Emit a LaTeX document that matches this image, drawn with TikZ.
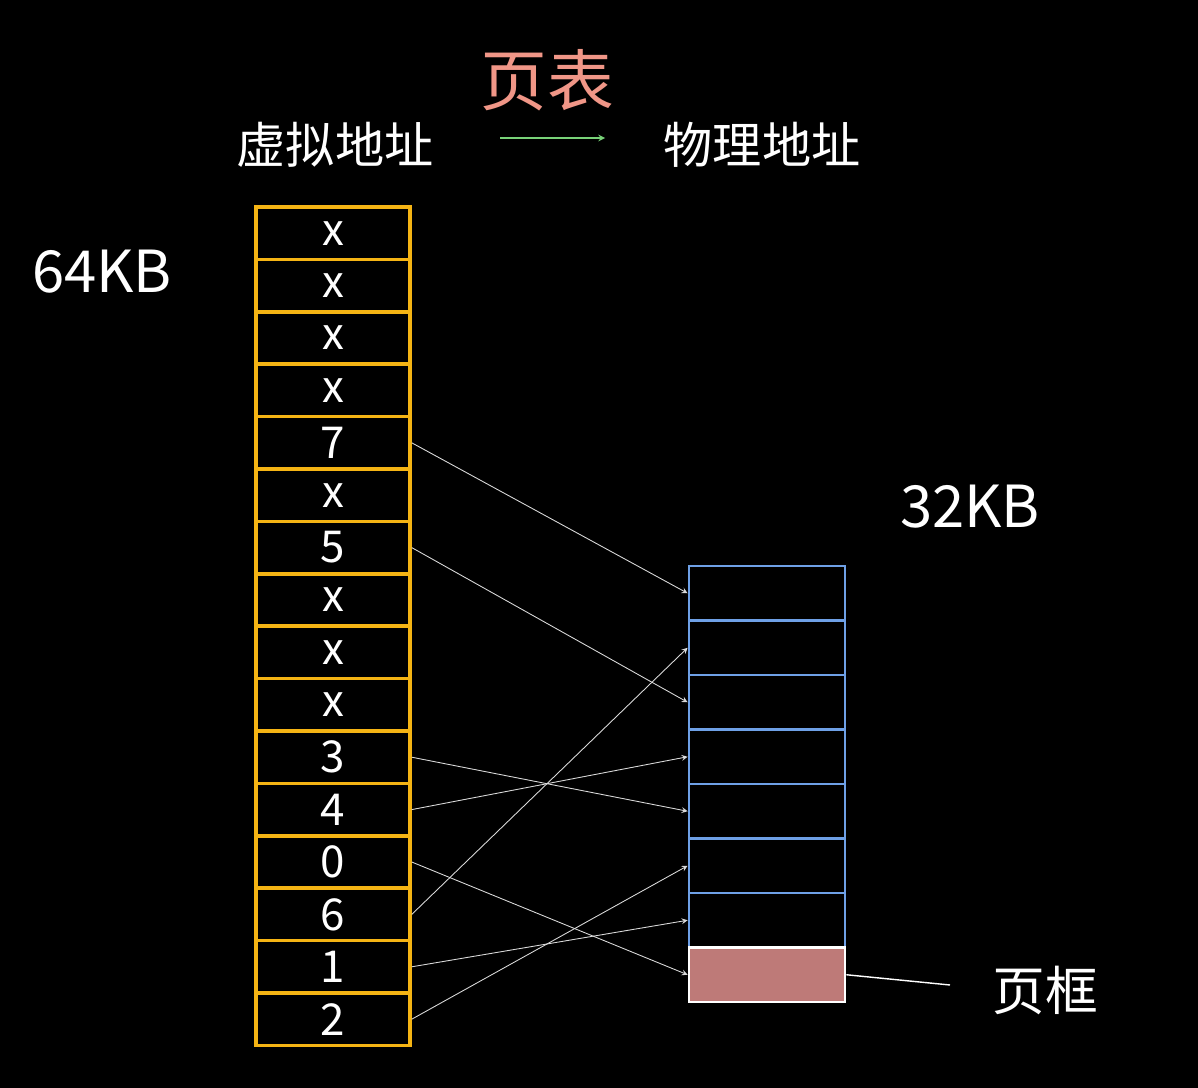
\documentclass[tikz,border=0pt]{standalone}
\usepackage{fontspec}
\setmainfont{Noto Sans CJK SC}
\begin{document}
\begin{tikzpicture}[x=0.02cm,y=-0.02cm,
 lcell/.style={draw={rgb,255:red,245;green,180;blue,20},line width=2pt,minimum width=154*0.02cm,minimum height=52.4*0.02cm,inner sep=0,text=white,font=\fontsize{25}{25}\selectfont},
 rcell/.style={draw={rgb,255:red,110;green,160;blue,230},line width=1.6pt,minimum width=156*0.02cm,minimum height=54.5*0.02cm,inner sep=0},
 conn/.style={draw=white!85!black,line width=0.5pt,-stealth},
 lbl/.style={text=white,inner sep=0}]
\fill[black] (0,0) rectangle (1198,1088);
\useasboundingbox (0,0) rectangle (1198,1088);
\def\labs{{"x","x","x","x","7","x","5","x","x","x","3","4","0","6","1","2"}}
\foreach \i in {1,...,16}{
  \pgfmathsetmacro\yy{207+52.4*(\i-0.5)}
  \pgfmathparse{\labs[\i-1]}\let\t\pgfmathresult
  \node[lcell] (L\i) at (333,\yy) {\raisebox{-0.45em}{\t}};
}
\foreach \i in {1,...,7}{
  \pgfmathsetmacro\yy{566+54.5*(\i-0.5)}
  \node[rcell] (R\i) at (767,\yy) {};
}
\node[rcell,draw=white,fill={rgb,255:red,190;green,122;blue,120}] (R8) at (767,566+54.5*7.5) {};
\foreach \a/\b in {5/1,7/3,11/5,12/4,13/8,14/2,15/7,16/6}
  \draw[conn] (L\a.east) -- (R\b.west);
\node[text={rgb,255:red,240;green,150;blue,135},font=\fontsize{38}{38}\selectfont] (title) at (547,80) {页表};
\node[lbl,font=\fontsize{28}{28}\selectfont] (va) at (335,145) {虚拟地址};
\node[lbl,font=\fontsize{28}{28}\selectfont] (pa) at (762,145) {物理地址};
\coordinate (g1) at (500,138); \coordinate (g2) at (605,138);
\draw[draw={rgb,255:red,120;green,210;blue,120},line width=0.7pt,-stealth] (g1) -- (g2);
\node[lbl,font=\fontsize{33}{33}\selectfont] (k64) at (102,272) {64KB};
\node[lbl,font=\fontsize{33}{33}\selectfont] (k32) at (970,507) {32KB};
\node[lbl,font=\fontsize{30}{30}\selectfont] (yk) at (1045,990) {页框};
\coordinate (yl) at (950,985);
\draw[white,line width=0.8pt] (R8.east) -- (yl);
\end{tikzpicture}
\end{document}
